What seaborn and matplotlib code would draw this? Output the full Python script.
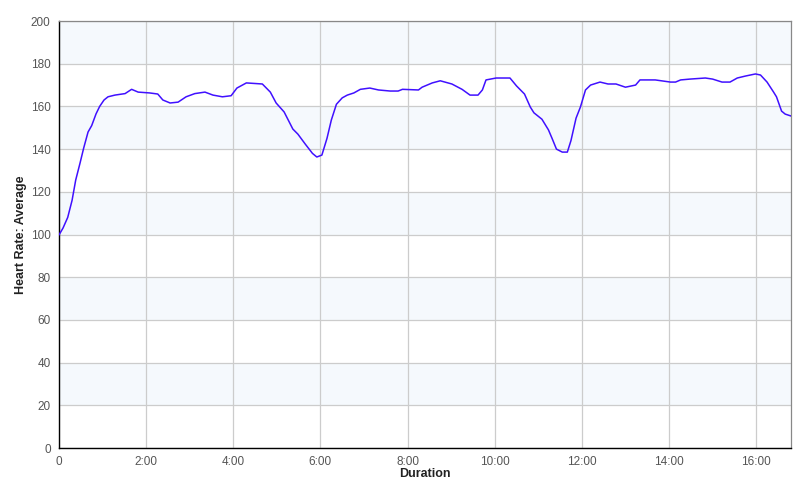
import matplotlib
matplotlib.use("Agg")
import matplotlib.pyplot as plt
from matplotlib.ticker import FuncFormatter, MultipleLocator
import pandas as pd
import seaborn as sns

# duration in seconds, average heart rate (bpm)
seconds = [0, 5.5, 12, 18, 23, 29, 34, 40, 45, 51, 56, 62, 67.5, 77, 91, 100, 109, 125,
           136, 143, 153, 164, 175, 187, 201, 212, 225, 237, 245, 258, 280, 291, 299, 310,
           322, 329, 339, 349, 355, 362, 369, 375, 382, 390, 397, 406, 415, 428, 440, 456,
           467, 473, 495, 500, 514, 525, 541, 555, 566, 577, 583, 588, 602, 621, 630, 641,
           649, 654, 665, 674, 679, 685, 693, 700, 705, 712, 718, 725, 732, 745, 756, 767,
           780, 794, 800, 821, 842, 849, 856, 869, 890, 900, 913, 924, 934, 945, 959, 966,
           975, 984, 988, 995, 1000, 1008]
heart_rate = [99.8, 103, 108, 116, 125.5, 133.5, 140.5, 148, 151, 156.5, 160, 163, 164.5,
              165.3, 166, 168, 166.7, 166.3, 165.8, 163, 161.6, 162, 164.5, 166, 166.7,
              165.3, 164.5, 165, 168.6, 171, 170.5, 166.7, 161.6, 157.4, 149.4, 147, 142.4,
              138, 136.3, 137.2, 145, 153.6, 161, 164, 165.3, 166.3, 168, 168.6, 167.7,
              167.2, 167.2, 168, 167.7, 169, 171, 172, 170.5, 168, 165.3, 165.3, 167.7,
              172.4, 173.3, 173.3, 169.6, 165.8, 159.7, 157, 154, 149, 145, 140, 138.6,
              138.6, 144, 154.5, 159.7, 167.7, 170, 171.4, 170.5, 170.5, 169, 170, 172.4,
              172.4, 171.4, 171.4, 172.4, 172.8, 173.3, 172.8, 171.4, 171.4, 173.3, 174.2,
              175.2, 174.7, 171.4, 166.7, 164.5, 157.8, 156.4, 155.5]
band_starts = [20, 60, 100, 140, 180]

df = pd.DataFrame({"Duration": seconds, "Heart Rate: Average": heart_rate})

sns.set_style("white")
plt.rcParams["font.family"] = ["Liberation Sans", "DejaVu Sans"]

fig = plt.figure(figsize=(8.06, 4.99), dpi=100)
ax = fig.add_axes([0.0732, 0.1022, 0.9082, 0.8557])

# alternating shaded bands
for b in band_starts:
    ax.axhspan(b, b + 20, color="#f5f9fd", zorder=0, lw=0)

sns.lineplot(data=df, x="Duration", y="Heart Rate: Average", ax=ax,
             color="#4010ff", linewidth=1.1, zorder=3)

ax.set_xlim(0, 1008)
ax.set_ylim(0, 200)
ax.xaxis.set_major_locator(MultipleLocator(120))
ax.yaxis.set_major_locator(MultipleLocator(20))


def fmt_time(v, pos):
    if v == 0:
        return "0"
    m = int(v // 60)
    s = int(v % 60)
    return f"{m}:{s:02d}"


ax.xaxis.set_major_formatter(FuncFormatter(fmt_time))
ax.grid(True, color="#cccccc", linewidth=0.9, zorder=1)
ax.set_axisbelow(True)

for side in ["top", "right"]:
    ax.spines[side].set_color("#888888")
    ax.spines[side].set_linewidth(0.9)
for side in ["left", "bottom"]:
    ax.spines[side].set_color("black")
    ax.spines[side].set_linewidth(1.0)

ax.tick_params(axis="both", direction="out", length=4, width=0.8, color="black",
               labelsize=8.5, labelcolor="#555555", pad=2)
ax.set_xlabel("Duration", fontsize=9, fontweight="bold", color="#222222", labelpad=0)
ax.set_ylabel("Heart Rate: Average", fontsize=9, fontweight="bold", color="#222222", labelpad=3)

fig.savefig("out.png", dpi=100)
